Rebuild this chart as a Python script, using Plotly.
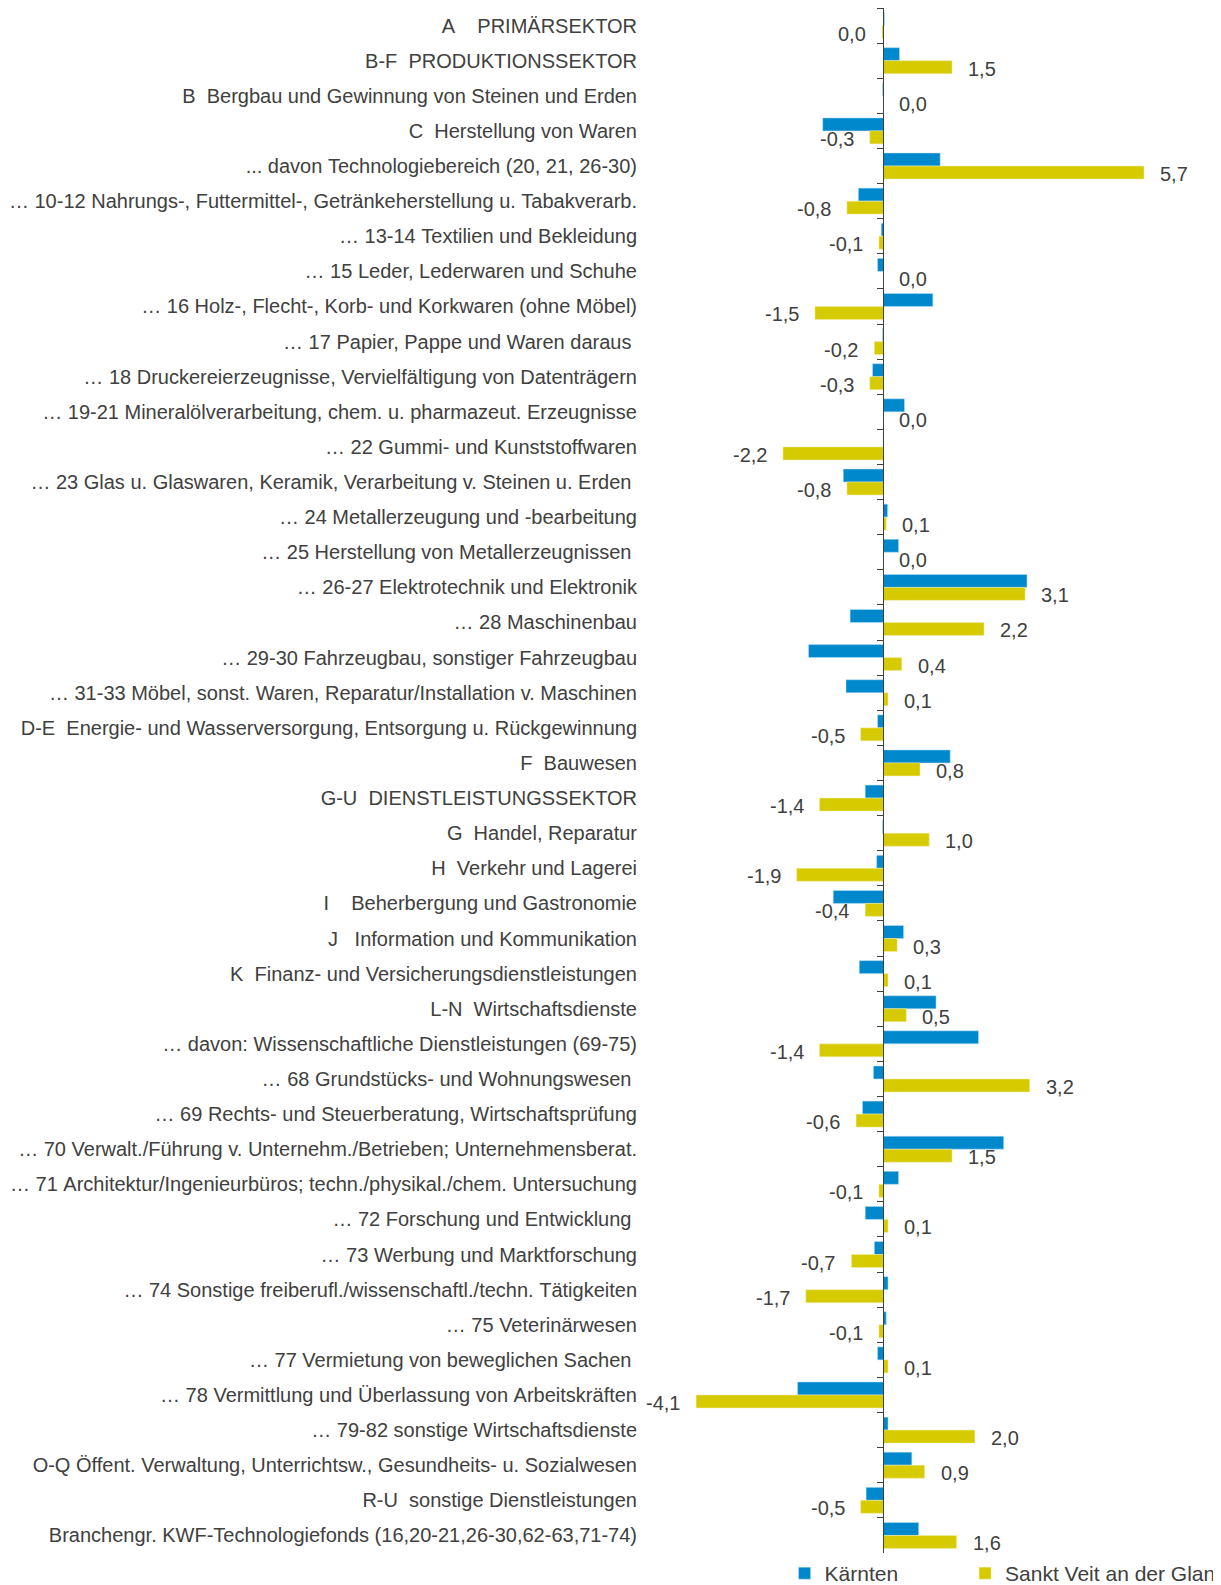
import plotly.graph_objects as go

# DATA
categories = [
    "A    PRIMÄRSEKTOR",
    "B-F  PRODUKTIONSSEKTOR",
    "B  Bergbau und Gewinnung von Steinen und Erden",
    "C  Herstellung von Waren",
    "... davon Technologiebereich (20, 21, 26-30)",
    "… 10-12 Nahrungs-, Futtermittel-, Getränkeherstellung u. Tabakverarb.",
    "… 13-14 Textilien und Bekleidung",
    "… 15 Leder, Lederwaren und Schuhe",
    "… 16 Holz-, Flecht-, Korb- und Korkwaren (ohne Möbel)",
    "… 17 Papier, Pappe und Waren daraus ",
    "… 18 Druckereierzeugnisse, Vervielfältigung von Datenträgern",
    "… 19-21 Mineralölverarbeitung, chem. u. pharmazeut. Erzeugnisse",
    "… 22 Gummi- und Kunststoffwaren",
    "… 23 Glas u. Glaswaren, Keramik, Verarbeitung v. Steinen u. Erden ",
    "… 24 Metallerzeugung und -bearbeitung",
    "… 25 Herstellung von Metallerzeugnissen ",
    "… 26-27 Elektrotechnik und Elektronik",
    "… 28 Maschinenbau",
    "… 29-30 Fahrzeugbau, sonstiger Fahrzeugbau",
    "… 31-33 Möbel, sonst. Waren, Reparatur/Installation v. Maschinen",
    "D-E  Energie- und Wasserversorgung, Entsorgung u. Rückgewinnung",
    "F  Bauwesen",
    "G-U  DIENSTLEISTUNGSSEKTOR",
    "G  Handel, Reparatur",
    "H  Verkehr und Lagerei",
    "I    Beherbergung und Gastronomie",
    "J   Information und Kommunikation",
    "K  Finanz- und Versicherungsdienstleistungen",
    "L-N  Wirtschaftsdienste",
    "… davon: Wissenschaftliche Dienstleistungen (69-75)",
    "… 68 Grundstücks- und Wohnungswesen ",
    "… 69 Rechts- und Steuerberatung, Wirtschaftsprüfung",
    "… 70 Verwalt./Führung v. Unternehm./Betrieben; Unternehmensberat.",
    "… 71 Architektur/Ingenieurbüros; techn./physikal./chem. Untersuchung",
    "… 72 Forschung und Entwicklung ",
    "… 73 Werbung und Marktforschung",
    "… 74 Sonstige freiberufl./wissenschaftl./techn. Tätigkeiten",
    "… 75 Veterinärwesen",
    "… 77 Vermietung von beweglichen Sachen ",
    "… 78 Vermittlung und Überlassung von Arbeitskräften",
    "… 79-82 sonstige Wirtschaftsdienste",
    "O-Q Öffent. Verwaltung, Unterrichtsw., Gesundheits- u. Sozialwesen",
    "R-U  sonstige Dienstleistungen",
    "Branchengr. KWF-Technologiefonds (16,20-21,26-30,62-63,71-74)",
]

kaernten = [
    0.02, 0.35, -0.02, -1.33, 1.24, -0.55, -0.05, -0.13, 1.08, -0.02,
    -0.24, 0.46, -0.01, -0.88, 0.09, 0.33, 3.14, -0.73, -1.64, -0.82,
    -0.13, 1.46, -0.40, -0.02, -0.15, -1.10, 0.44, -0.53, 1.15, 2.08,
    -0.22, -0.46, 2.63, 0.33, -0.40, -0.20, 0.10, 0.06, -0.13, -1.88,
    0.10, 0.62, -0.38, 0.77,
]

sankt_veit = [
    -0.03, 1.5, 0.0, -0.3, 5.7, -0.8, -0.1, 0.0, -1.5, -0.2,
    -0.3, 0.0, -2.2, -0.8, 0.06, 0.0, 3.1, 2.2, 0.4, 0.1,
    -0.5, 0.8, -1.4, 1.0, -1.9, -0.4, 0.3, 0.1, 0.5, -1.4,
    3.2, -0.6, 1.5, -0.1, 0.1, -0.7, -1.7, -0.1, 0.1, -4.1,
    2.0, 0.9, -0.5, 1.6,
]

BLUE = "#0088CC"
YELLOW = "#D6CB00"
TEXT = "#404040"
FONT = "Arial, Liberation Sans, sans-serif"

# keep the multiple / trailing spaces of the labels
labels = [c.replace(" ", "\u00a0") for c in categories]


def fmt(v):
    if round(v, 1) == 0:
        return "0,0"
    return f"{v:.1f}".replace(".", ",")


# the page body adds 8px, so the figure is shifted 8px right and down
W, H = 1213, 1586
LEFT = 636
# x scale: zero line at 875 px of the figure, about 45.7 px per unit
x_min, x_max = -5.24, 7.385
n = len(labels)

fig = go.Figure()
fig.add_trace(go.Bar(
    y=labels, x=kaernten, orientation="h", name="Kärnten", legend="legend",
    marker=dict(color=BLUE, line=dict(color="#BFE3F5", width=0.5)),
))
fig.add_trace(go.Bar(
    y=labels, x=sankt_veit, orientation="h", name="Sankt Veit an der Glan",
    legend="legend2",
    marker=dict(color=YELLOW, line=dict(color="#F2EDB0", width=0.5)),
))
# invisible helper trace for the axis line at zero
fig.add_trace(go.Scatter(
    y=labels, x=[0] * n, yaxis="y2", mode="markers",
    marker=dict(opacity=0), showlegend=False, hoverinfo="skip",
))

# value labels for Sankt Veit
for lab, v in zip(labels, sankt_veit):
    fig.add_annotation(
        x=v, y=lab, text=fmt(v), showarrow=False,
        xanchor="left" if v >= 0 else "right",
        xshift=14 if v >= 0 else -14, yshift=-8,
        font=dict(family=FONT, size=20, color=TEXT),
    )

legend_style = dict(
    orientation="h", xref="container", yref="container",
    y=0, yanchor="bottom", xanchor="left",
    font=dict(family=FONT, size=21, color=TEXT),
    bgcolor="rgba(0,0,0,0)",
)

fig.update_layout(
    width=W, height=H,
    margin=dict(l=LEFT, r=0, t=0, b=33),
    paper_bgcolor="white", plot_bgcolor="white",
    barmode="group", bargap=0.26, bargroupgap=0,
    font=dict(family=FONT, size=20, color=TEXT),
    xaxis=dict(range=[x_min, x_max], visible=False, showgrid=False,
               zeroline=False, automargin=False),
    yaxis=dict(
        type="category", range=[n - 0.5, -0.5], showline=False, showgrid=False,
        ticks="", automargin=False, ticklabelstandoff=6,
        tickfont=dict(family=FONT, size=20, color=TEXT),
    ),
    yaxis2=dict(
        type="category", matches="y", overlaying="y", anchor="free",
        position=(0 - x_min) / (x_max - x_min), side="left", automargin=False,
        showline=True, linecolor="#404040", linewidth=1,
        ticks="outside", tickson="boundaries", ticklen=6, tickcolor="#404040",
        showticklabels=False, showgrid=False,
    ),
    legend=dict(legend_style, x=0.6402),
    legend2=dict(legend_style, x=0.789),
    showlegend=True,
)

fig.write_html("out.html")
